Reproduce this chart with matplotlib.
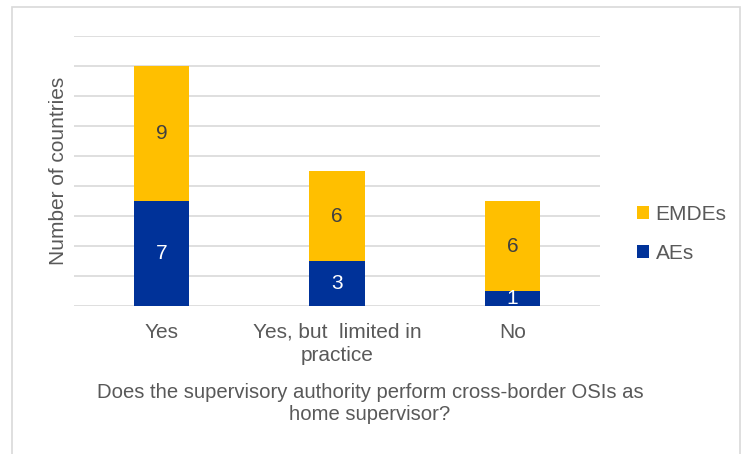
import numpy as np
import matplotlib.pyplot as plt
from matplotlib.patches import Rectangle

plt.rcParams['font.family'] = ['Liberation Sans', 'DejaVu Sans']

categories = ['Yes', 'Yes, but  limited in\npractice', 'No']
aes = [7, 3, 1]
emdes = [9, 6, 6]

blue = '#003299'
yellow = '#FFBF00'
grey = '#595959'
fs = 15

fig = plt.figure(figsize=(7.42, 4.54), dpi=100)
ax = fig.add_axes([74 / 742, 1 - 306 / 454, 526 / 742, 270 / 454])

# outer chart border
fig.patches.append(Rectangle((12 / 742, -0.1), 728 / 742, 1.1 - 7 / 454,
                             transform=fig.transFigure, fill=False,
                             edgecolor='#D9D9D9', lw=1.2))

x = np.arange(len(categories))
w = 0.315
b1 = ax.bar(x, aes, w, color=blue, label='AEs', zorder=3)
b2 = ax.bar(x, emdes, w, bottom=aes, color=yellow, label='EMDEs', zorder=3)

for i in range(len(x)):
    ax.text(x[i], aes[i] / 2, str(aes[i]), ha='center', va='center',
            color='white', fontsize=fs, zorder=4)
    ax.text(x[i], aes[i] + emdes[i] / 2, str(emdes[i]), ha='center',
            va='center', color='#404040', fontsize=fs, zorder=4)

ax.set_xlim(-0.5, 2.5)
ax.set_ylim(0, 18)
ax.set_yticks(np.arange(0, 19, 2))
ax.yaxis.grid(True, color='#D9D9D9', lw=1.2, zorder=0)
ax.tick_params(axis='y', length=0, labelleft=False)
ax.tick_params(axis='x', length=0, labelsize=fs, colors=grey, pad=12)
ax.set_xticks(x)
ax.set_xticklabels(categories, linespacing=1.3)
for s in ax.spines.values():
    s.set_visible(False)

ax.set_ylabel('Number of countries', fontsize=fs, color=grey, labelpad=4)
fig.text(370 / 742, 1 - 404 / 454,
         'Does the supervisory authority perform cross-border OSIs as\nhome supervisor?',
         ha='center', va='center', fontsize=14.6, color=grey, linespacing=1.2)

handles = [b2, b1]
ax.legend(handles, ['EMDEs', 'AEs'], loc='center left',
          bbox_to_anchor=(618 / 742, 1 - 234 / 454),
          bbox_transform=fig.transFigure, frameon=False, fontsize=fs,
          labelcolor=grey, handlelength=0.6, handleheight=0.6,
          handletextpad=0.3, labelspacing=0.95)

fig.savefig('out.png', dpi=100)
